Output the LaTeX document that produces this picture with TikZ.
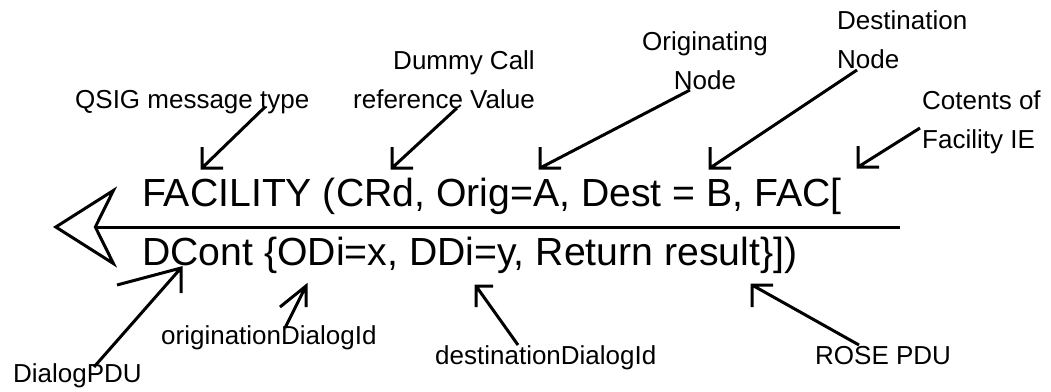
\documentclass[tikz,border=0pt]{standalone}
\usepackage{fontspec}
\setmainfont{Liberation Sans}
\usepackage{tikz}
\usetikzlibrary{arrows.meta}
\tikzset{
  msg/.style={font=\fontsize{39.2}{40}\selectfont,inner sep=0pt,anchor=base west},
  lbl/.style={font=\fontsize{26}{39}\selectfont,inner sep=0pt},
  arr/.style={line width=3pt,line join=miter},
  bus/.style={line width=3pt,-{Stealth[open,length=64pt,width=81pt,inset=20pt]}}}

\begin{document}
\begin{tikzpicture}[x=1pt,y=-1pt]
\useasboundingbox (0,0) rectangle (1051,391);
% message on the line
\node[msg] (msg1) at (142,206) {FACILITY (CRd, Orig=A, Dest = B, FAC[};
\node[msg] (msg2) at (142,265) {DCont \{ODi=x, DDi=y, Return result\}])};
\coordinate (bus-r) at (900,227);
\coordinate (bus-l) at (53,227);
\draw[bus] (bus-r) -- (bus-l);
% labels above
\node[lbl,anchor=base west] (qsig) at (75,108) {QSIG message type};
\node[lbl,anchor=base east,align=right] (dummy) at (535,108) {Dummy Call\\reference Value};
\node[lbl,anchor=base,align=center] (orig) at (705,89) {Originating\\Node};
\node[lbl,anchor=base west,align=left] (dest) at (837,68) {Destination\\Node};
\node[lbl,anchor=base west,align=left] (facie) at (922,148) {Cotents of\\Facility IE};
% labels below
\node[lbl,anchor=base west] (dlgpdu) at (13,382) {DialogPDU};
\node[lbl,anchor=base west] (odi) at (161,344) {originationDialogId};
\node[lbl,anchor=base west] (ddi) at (435,364) {destinationDialogId};
\node[lbl,anchor=base west] (rose) at (815,364) {ROSE PDU};
% pointers
\coordinate (qsig-s) at (265,107);  \coordinate (qsig-t) at (202,168);
\coordinate (dummy-s) at (457,108); \coordinate (dummy-t) at (392,168);
\coordinate (orig-s) at (690,90);   \coordinate (orig-t) at (540,168);
\coordinate (dest-s) at (857,70);   \coordinate (dest-t) at (710,168);
\coordinate (facie-s) at (920,128); \coordinate (facie-t) at (858,167);
\coordinate (dlgpdu-s) at (94,367); \coordinate (dlgpdu-t) at (181,268);
\coordinate (odi-s) at (285,328);   \coordinate (odi-t) at (306,286);
\coordinate (ddi-s) at (518,345);   \coordinate (ddi-t) at (476,286);
\coordinate (rose-s) at (859,345);  \coordinate (rose-t) at (752,285);
\foreach \p in {qsig,dummy,orig,dest,facie}
  \draw[arr] (\p-s) -- (\p-t) (\p-t) ++(0,-21) -- (\p-t) -- ++(21,0);
\draw[arr] (dlgpdu-s) -- (dlgpdu-t) (dlgpdu-t) ++(0,25) -- (dlgpdu-t) -- ++(-64,17);
\draw[arr] (odi-s) -- (odi-t) (odi-t) ++(0,21) -- (odi-t) -- ++(-26,21);
\draw[arr] (ddi-s) -- (ddi-t) (ddi-t) ++(0,21) -- (ddi-t) -- ++(17,0);
\draw[arr] (rose-s) -- (rose-t) (rose-t) ++(0,22) -- (rose-t) -- ++(21,0);
\end{tikzpicture}
\end{document}
